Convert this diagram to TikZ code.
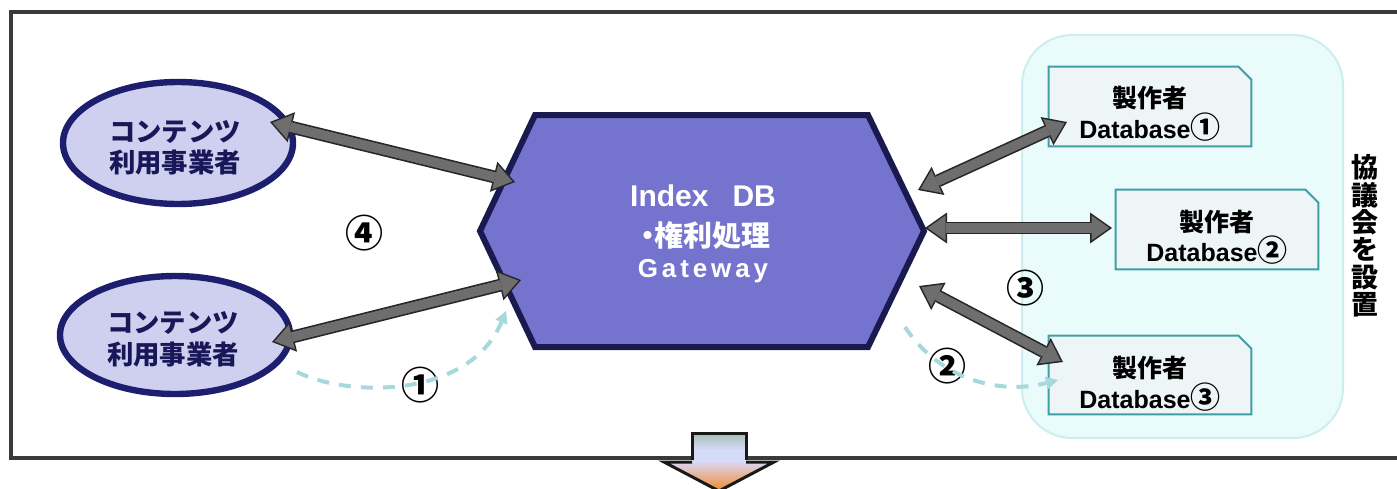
\documentclass[tikz,border=0pt]{standalone}
\usepackage{fontspec}
\setmainfont{Liberation Sans}
\newfontfamily\jp{Noto Sans CJK JP}
\usetikzlibrary{arrows.meta,shapes.geometric,shapes.misc}
\definecolor{ellfill}{HTML}{CFD0EF}
\definecolor{navy}{HTML}{1E1E6E}
\definecolor{hexfill}{HTML}{7474CF}
\definecolor{hexline}{HTML}{1A1A50}
\definecolor{panelfill}{HTML}{EAFBFC}
\definecolor{panelline}{HTML}{CDEDF0}
\definecolor{dbfill}{HTML}{EEF5F7}
\definecolor{dbline}{HTML}{3D9EA5}
\definecolor{arrgray}{HTML}{6E6E6E}
\definecolor{dashblue}{HTML}{A8D8DC}
\definecolor{framegray}{HTML}{3A3A3A}
\definecolor{boxtop}{HTML}{A8BCB4}
\definecolor{boxbot}{HTML}{D4DCF8}
\definecolor{tritop}{HTML}{DCD6F0}
\definecolor{tribot}{HTML}{F08A2C}
\tikzset{
  ellnode/.style={ellipse, draw=navy, line width=3.2pt, fill=ellfill, inner sep=0pt},
  etext/.style={font=\jp\bfseries\fontsize{13.2}{13.2}\selectfont, text=navy!80!black, inner sep=0pt},
  hextext/.style={text=white, inner sep=0pt},
  dbbox/.style={rectangle, draw=none, minimum width=101pt, minimum height=39.5pt, inner sep=0pt},
  dbshape/.style={draw=dbline, line width=1pt, fill=dbfill, line join=miter},
  dbtext/.style={font=\bfseries\fontsize{12.5}{12.5}\selectfont, inner sep=0pt},
  numtext/.style={font=\jp\bfseries\fontsize{19}{19}\selectfont, inner sep=0pt},
  blkarr/.style={draw=black!85, line width=6.4pt,
     {Triangle[length=11pt,width=15.5pt,line width=0pt]}-{Triangle[length=11pt,width=15.5pt,line width=0pt]}},
  gryarr/.style={draw=arrgray, line width=4.8pt, shorten <=1.35pt, shorten >=1.35pt,
     {Triangle[length=8.9pt,width=12.6pt,line width=0pt]}-{Triangle[length=8.9pt,width=12.6pt,line width=0pt]}},
  dsharr/.style={draw=dashblue, line width=2pt, dash pattern=on 6pt off 5pt,
     -{Triangle[length=6pt,width=6.5pt,line width=0pt]}},
}
\newcommand\dblarrow[2]{\draw[blkarr] (#1) -- (#2); \draw[gryarr] (#1) -- (#2);}
\newcommand\chamfbox[1]{\draw[dbshape] (#1.south west) -- (#1.north west) -- ([xshift=-6.5pt]#1.north east)
   -- ([yshift=-6.5pt]#1.north east) -- (#1.south east) -- cycle;}
\newcommand\cnum[1]{{\jp\fontsize{15}{15}\selectfont #1}}
\begin{document}
\begin{tikzpicture}[x=0.5pt,y=-0.5pt]
\useasboundingbox (0,0) rectangle (1397,488);
% outer frame
\draw[line width=2pt, draw=framegray] (11,12) rectangle (1404,458);
% down arrow
\shade[top color=tritop, bottom color=tribot] (664,462) -- (774,462) -- (719,491) -- cycle;
\fill[boxbot] (692,433) rectangle (746,462);
\shade[top color=boxtop, bottom color=boxbot] (692,433) rectangle (746,450);
\draw[line width=1.5pt, draw=black!90, line join=miter] (692,460) -- (692,433) -- (746,433) -- (746,460);
\draw[line width=1.5pt, draw=black!90] (692,462) -- (664,462) -- (719,491) -- (774,462) -- (746,462);
% right panel
\node[draw=panelline, line width=1pt, fill=panelfill, rounded corners=25pt,
      minimum width=160.5pt, minimum height=201.5pt, inner sep=0pt] (pn) at (1182.5,236.5) {};
% ellipses
\node[ellnode, minimum width=115pt, minimum height=61pt] (e1) at (178,143) {};
\node[ellnode, minimum width=115pt, minimum height=59pt] (e2) at (175,335) {};
\node[etext] (e1a) at (175,132) {コンテンツ};
\node[etext] (e1b) at (175,163) {利用事業者};
\node[etext] (e2a) at (173,323) {コンテンツ};
\node[etext] (e2b) at (173,355) {利用事業者};
% hexagon
\draw[line width=3pt, draw=hexline, fill=hexfill, line join=miter]
  (535,115) -- (868,115) -- (924,231) -- (868,347) -- (535,347) -- (480,231) -- cycle;
\node[hextext, font=\bfseries\fontsize{15}{15}\selectfont] (hx1) at (703,196) {Index\hspace{12pt}DB};
\node[hextext, font=\jp\bfseries\fontsize{14.5}{14.5}\selectfont] (hx2) at (702,236) {・\hspace{-4pt}権利処理};
\node[hextext, font=\bfseries\fontsize{13}{13}\selectfont\addfontfeature{LetterSpace=15}] (hx3) at (703,271) {Gateway};
% DB boxes
\node[dbbox] (d1) at (1150,106.5) {};
\node[dbbox] (d2) at (1217,229.5) {};
\node[dbbox, minimum height=39pt] (d3) at (1150,375) {};
\chamfbox{d1}
\chamfbox{d2}
\chamfbox{d3}
\node[dbtext] (d1a) at (1150,98) {\jp 製作者};
\node[dbtext] (d1b) at (1150,127) {Database\cnum{①}};
\node[dbtext] (d2a) at (1217,222) {\jp 製作者};
\node[dbtext] (d2b) at (1217,250) {Database\cnum{②}};
\node[dbtext] (d3a) at (1150,368) {\jp 製作者};
\node[dbtext] (d3b) at (1150,397) {Database\cnum{③}};
% vertical label
\node[align=center, inner sep=0pt, font=\jp\bfseries\fontsize{13.5}{13.7}\selectfont] (kv) at (1365,236)
  {協\\議\\会\\を\\設\\置};
% numbers
\node[numtext] (n4) at (364,233) {④};
\node[numtext] (n1) at (420,385) {①};
\node[numtext] (n2) at (947,366) {②};
\node[numtext] (n3) at (1025,288) {③};
% arrow end coordinates
\coordinate (p1) at (270,122); \coordinate (q1) at (515,182);
\coordinate (p2) at (272,342); \coordinate (q2) at (521,280);
\coordinate (p3) at (918,190); \coordinate (q3) at (1067,122);
\coordinate (p4) at (925,228); \coordinate (q4) at (1112,228);
\coordinate (p5) at (919,286); \coordinate (q5) at (1063,362);
\dblarrow{p1}{q1}
\dblarrow{p2}{q2}
\dblarrow{p3}{q3}
\dblarrow{p4}{q4}
\dblarrow{p5}{q5}
% dashed arrows
\coordinate (s1) at (297,372); \coordinate (t1) at (506,311);
\coordinate (s2) at (905,327); \coordinate (t2) at (1058,380);
\draw[dsharr] (s1) .. controls (350,398) and (470,398) .. (t1);
\draw[dsharr] (s2) .. controls (940,380) and (1000,395) .. (t2);
\end{tikzpicture}
\end{document}
